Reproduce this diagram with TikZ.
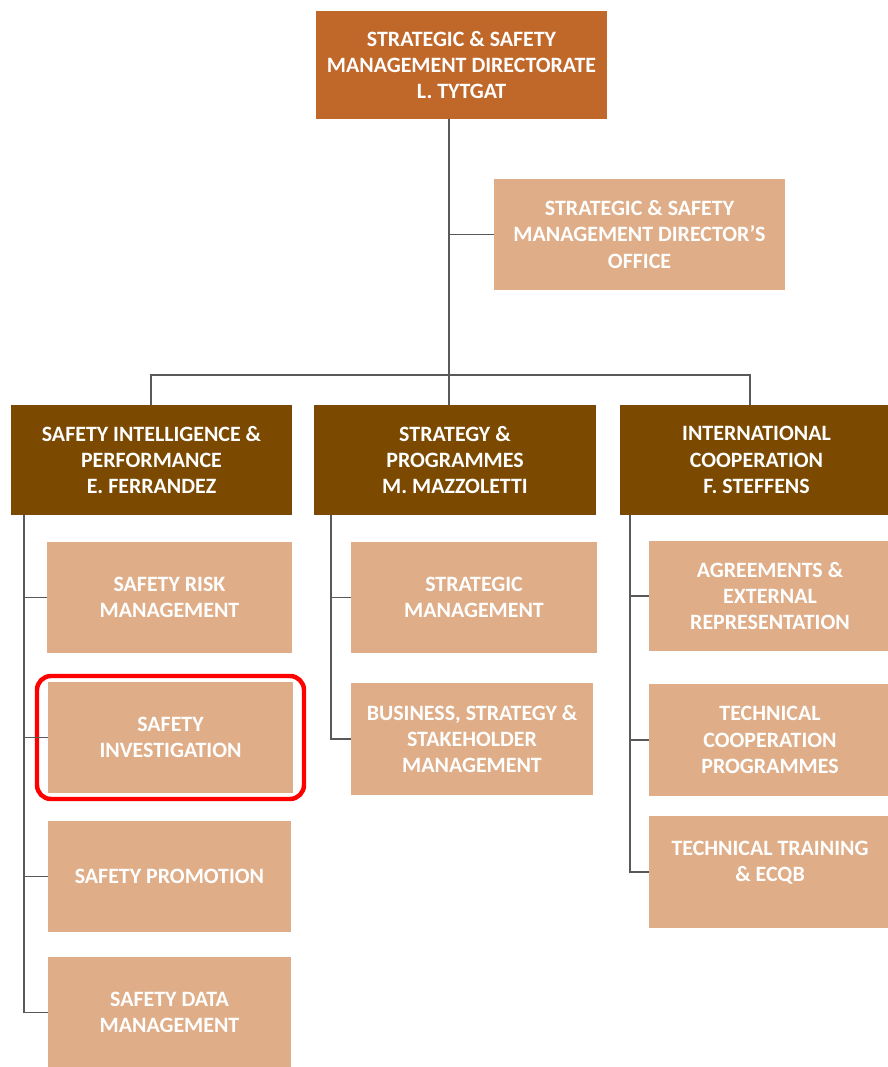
\documentclass[tikz,border=0pt]{standalone}
\usepackage{fontspec}
\setmainfont{Carlito}
\usetikzlibrary{fit}
\definecolor{directorate}{HTML}{C0672A}
\definecolor{department}{HTML}{7B4A00}
\definecolor{section}{HTML}{DFAE88}
\definecolor{linkgray}{HTML}{595959}
\tikzset{
    unit/.style={text=white, align=center, inner sep=0pt, outer sep=0pt,
        font=\bfseries\fontsize{18.7}{22.5}\selectfont},
    dirbox/.style={unit, fill=directorate, minimum width=291*0.03cm, minimum height=108*0.03cm},
    deptbox/.style={unit, fill=department, minimum height=110*0.03cm},
    secbox/.style={unit, fill=section, minimum height=111*0.03cm},
    link/.style={draw=linkgray, line width=1.3pt},
    spotlight/.style={draw=red, line width=3.8pt, rounded corners=14*0.03cm}
}
\begin{document}
\begin{tikzpicture}[x=0.03cm, y=-0.03cm]
    \useasboundingbox (0,0) rectangle (887,1067);
    % directorate
    \node[dirbox] (top) at (461.5,65) {STRATEGIC \& SAFETY\\MANAGEMENT DIRECTORATE\\L. TYTGAT};
    \node[secbox, minimum width=291*0.03cm] (office) at (639.5,234.5) {STRATEGIC \& SAFETY\\MANAGEMENT DIRECTOR'S\\OFFICE};
    % departments
    \node[deptbox, minimum width=281*0.03cm] (sip) at (151.5,460) {SAFETY INTELLIGENCE \&\\PERFORMANCE\\E. FERRANDEZ};
    \node[deptbox, minimum width=282*0.03cm] (spm) at (455,460) {STRATEGY \&\\PROGRAMMES\\M. MAZZOLETTI};
    \node[deptbox, minimum width=273*0.03cm] (icoop) at (756.5,460) {INTERNATIONAL\\COOPERATION\\F. STEFFENS};
    % sections
    \node[secbox, minimum width=245*0.03cm] (risk) at (169.5,597.5) {SAFETY RISK\\MANAGEMENT};
    \node[secbox, minimum width=245*0.03cm] (invest) at (170.5,737.5) {SAFETY\\INVESTIGATION};
    \node[secbox, minimum width=243*0.03cm] (promo) at (169.5,876.5) {SAFETY PROMOTION};
    \node[secbox, minimum width=243*0.03cm] (data) at (169.5,1012.5) {SAFETY DATA\\MANAGEMENT};
    \node[secbox, minimum width=246*0.03cm] (strat) at (474,597.5) {STRATEGIC\\MANAGEMENT};
    \node[secbox, minimum width=242*0.03cm, minimum height=112*0.03cm] (bsm) at (472,739) {BUSINESS, STRATEGY \&\\STAKEHOLDER\\MANAGEMENT};
    \node[secbox, minimum width=242*0.03cm, minimum height=110*0.03cm] (agree) at (770,596) {AGREEMENTS \&\\EXTERNAL\\REPRESENTATION};
    \node[secbox, minimum width=242*0.03cm, minimum height=112*0.03cm] (tcp) at (770,740) {TECHNICAL\\COOPERATION\\PROGRAMMES};
    \node[secbox, minimum width=242*0.03cm, minimum height=112*0.03cm] (train) at (770,872) {TECHNICAL TRAINING\\\& ECQB\\[-10.5pt]\strut};
    % highlight
    \node[spotlight, fit=(invest), inner xsep=11*0.03cm, inner ysep=6*0.03cm] (focus) {};
    % connectors
    \coordinate (hub) at (449,375);
    \coordinate (spineL) at (24,0);
    \coordinate (spineM) at (331,0);
    \coordinate (spineR) at (630,0);
    \draw[link] (top.south -| hub) -- (hub);
    \draw[link] (hub |- office.west) -- (office.west);
    \draw[link] (151,0 |- sip.north) |- (hub) -| (750,0 |- icoop.north);
    \draw[link] (hub) -- (hub |- spm.north);
    \draw[link] (spineL |- sip.south) |- (data.west);
    \draw[link] (spineL |- risk.west) -- (risk.west);
    \draw[link] (spineL |- invest.west) -- (invest.west);
    \draw[link] (spineL |- promo.west) -- (promo.west);
    \draw[link] (spineM |- spm.south) |- (bsm.west);
    \draw[link] (spineM |- strat.west) -- (strat.west);
    \draw[link] (spineR |- icoop.south) |- (train.west);
    \draw[link] (spineR |- agree.west) -- (agree.west);
    \draw[link] (spineR |- tcp.west) -- (tcp.west);
\end{tikzpicture}
\end{document}
